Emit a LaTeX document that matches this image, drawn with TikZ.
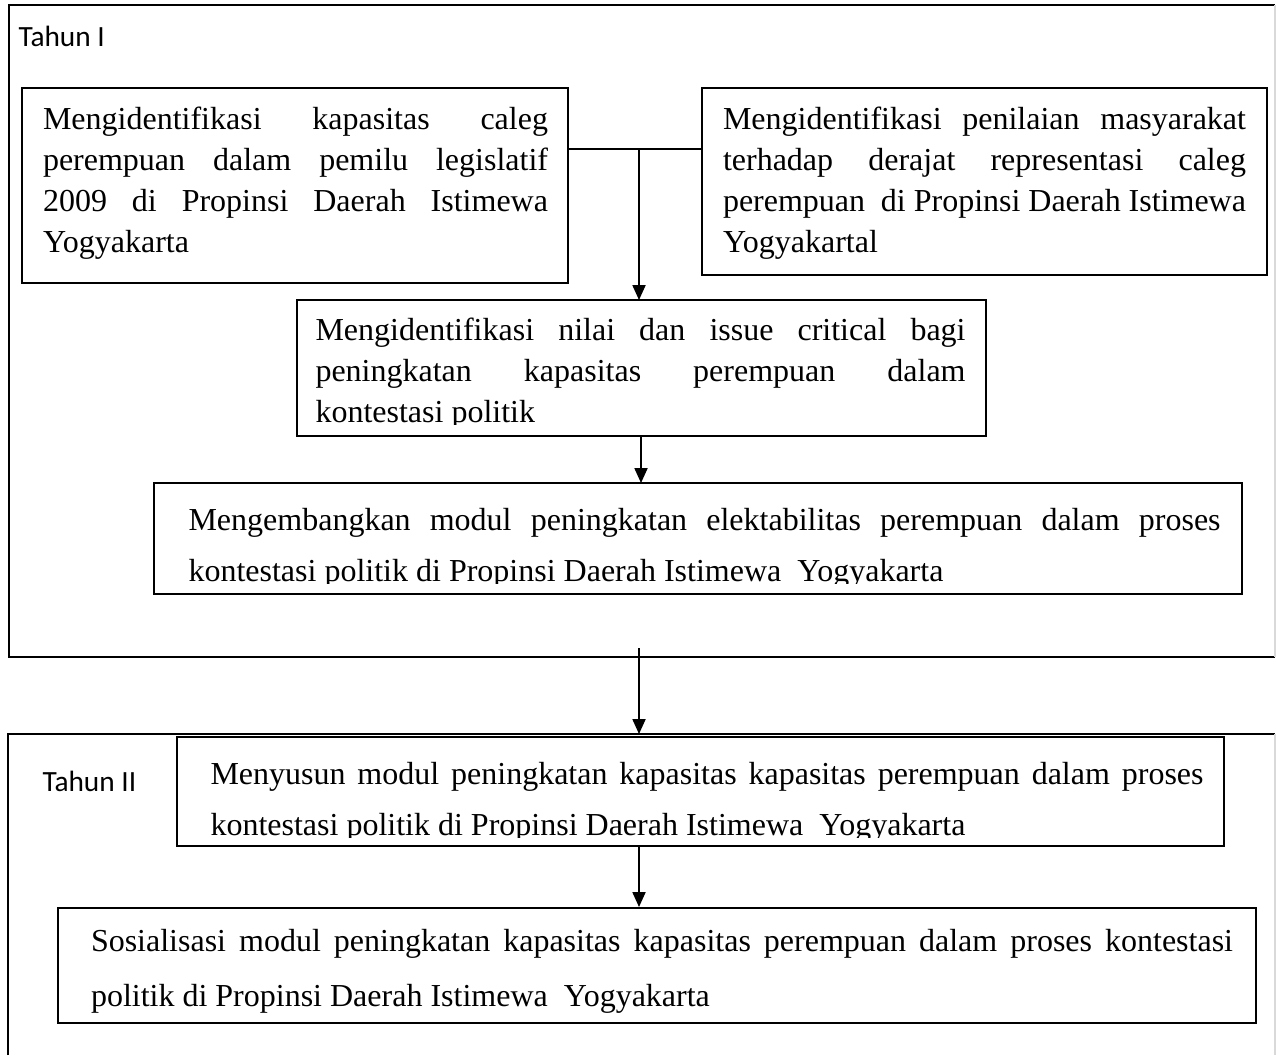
\documentclass[tikz,border=0pt]{standalone}
\usepackage{fontspec}
\setmainfont{Liberation Serif}
\newfontfamily\lblfont{Carlito}
\usetikzlibrary{arrows.meta,calc}
\newlength\px
\setlength\px{0.375pt}
% #1 left pad, #2 text width, #3 right pad, #4 box height, #5 first baseline, #6 baselineskip, #7 text (all in px)
\newcommand\boxtext[7]{%
  \hspace*{#1\px}\parbox[b][#4\px][t]{#2\px}{\fontsize{12pt}{#6\px}\selectfont
    \hyphenpenalty=10000 \tolerance=10000 \hbadness=10000 \parindent=0pt
    \rule{0pt}{#5\px}#7\par}\hspace*{#3\px}}
\tikzset{
  cbox/.style={draw, line width=0.75pt, inner sep=0pt, anchor=north west},
  tbox/.style={inner sep=0pt, anchor=north west},
  boxline/.style={line width=0.75pt},
  frame/.style={line width=0.75pt},
  faint/.style={line width=0.6pt, black!15},
  conn/.style={line width=0.6pt},
  arr/.style={conn, -{Triangle[length=5.6pt,width=4.9pt]}},
  lbl/.style={inner sep=0pt, anchor=base west, font=\lblfont\fontsize{11pt}{13pt}\selectfont},
}
\begin{document}
\begin{tikzpicture}[x=\px, y=-\px]
\useasboundingbox (0,0) rectangle (1276,1055);
\fill[white] (0,0) rectangle (1276,1055);

% outer frame Tahun I
\draw[frame] (1275,657) -- (9,657) -- (9,5) -- (1275,5);
\draw[faint] (1275,5) -- (1275,657);
% outer frame Tahun II
\draw[frame] (8,1055) -- (8,734) -- (1275,734);
\draw[faint] (1275,734) -- (1275,1055);

\node[lbl] (t1) at (18,46) {Tahun I};
\node[lbl] (t2) at (42,791) {Tahun II};

% top row
\node[cbox] (lb) at (21,87) {\boxtext{21}{505}{20}{195}{41}{41}{Mengidentifikasi kapasitas caleg\linebreak perempuan dalam pemilu legislatif\linebreak 2009 di Propinsi Daerah Istimewa\linebreak Yogyakarta}};
\node[cbox] (rb) at (701,87) {\boxtext{21}{523}{21}{187}{41}{41}{Mengidentifikasi penilaian masyarakat\linebreak terhadap derajat representasi caleg\linebreak perempuan\ \ di Propinsi Daerah Istimewa\linebreak Yogyakartal}};

% middle box (text clipped at bottom)
\begin{scope}
  \clip (297,300) rectangle (985,424);
  \node[tbox] (mid) at (297,300) {\boxtext{18}{650}{20}{135}{40}{41}{Mengidentifikasi nilai dan issue critical bagi\linebreak peningkatan kapasitas perempuan dalam\linebreak kontestasi politik}};
\end{scope}
\draw[boxline] (mid.north west) rectangle (mid.south east);

% Mengembangkan
\begin{scope}
  \clip (154,483) rectangle (1241,583);
  \node[tbox] (mg) at (154,483) {\boxtext{34}{1032}{21}{110}{47}{51}{Mengembangkan modul peningkatan elektabilitas perempuan dalam proses\linebreak kontestasi politik di Propinsi Daerah Istimewa\ \ Yogyakarta}};
\end{scope}
\draw[boxline] (mg.north west) rectangle (mg.south east);

% Menyusun
\begin{scope}
  \clip (177,737) rectangle (1223,837);
  \node[tbox] (ms) at (177,737) {\boxtext{33}{993}{20}{108}{47}{51}{Menyusun modul peningkatan kapasitas kapasitas perempuan dalam proses\linebreak kontestasi politik di Propinsi Daerah Istimewa\ \ Yogyakarta}};
\end{scope}
\draw[boxline] (ms.north west) rectangle (ms.south east);

% Sosialisasi
\node[cbox] (so) at (57,907) {\boxtext{33}{1142}{23}{115}{43}{55}{Sosialisasi modul peningkatan kapasitas kapasitas perempuan dalam proses kontestasi\linebreak politik di Propinsi Daerah Istimewa\ \ Yogyakarta}};

% connectors
\coordinate (lbR) at ($(lb.north east)!0.315!(lb.south east)$);
\draw[conn] (lbR) -- (lbR -| rb.west);
\coordinate (j) at (639,0 |- lbR);
\draw[arr] (j) -- (j |- mid.north);
\draw[arr] (641,0 |- mid.south) -- (641,0 |- mg.north);
\coordinate (a0) at (639,648);
\draw[arr] (a0) -- (a0 |- 0,734);
\draw[arr] (a0 |- ms.south) -- (a0 |- so.north);
\end{tikzpicture}
\end{document}
